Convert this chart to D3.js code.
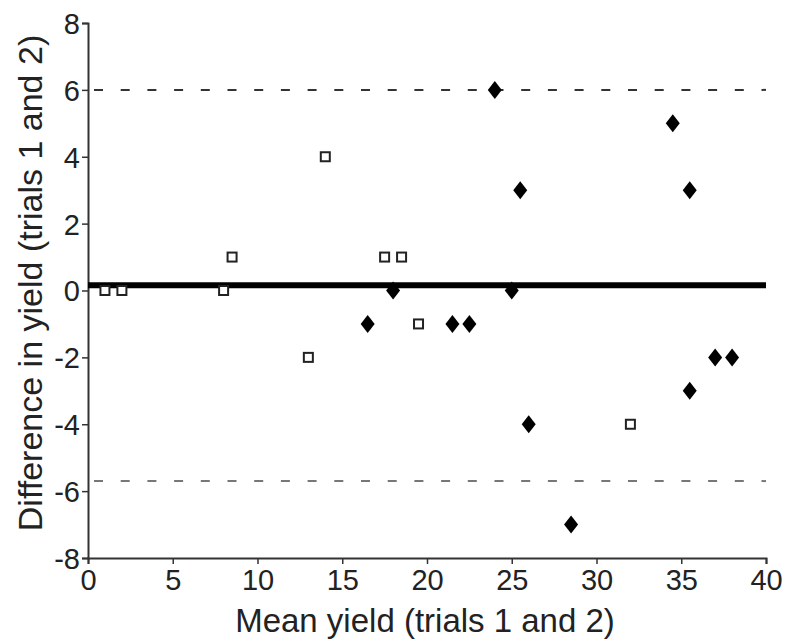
<!DOCTYPE html>
<html>
<head>
<meta charset="utf-8">
<script src="https://cdn.jsdelivr.net/npm/d3@7.9.0/dist/d3.min.js"></script>
<style>
  body { margin: 0; background: #fff; }
  svg text { font-family: "Liberation Sans", Arial, sans-serif; fill: #222; }
</style>
</head>
<body>
<svg id="chart" width="788" height="643"></svg>
<script>
// open squares
const squareX = [1, 2, 8, 8.5, 13, 14, 17.5, 18.5, 19.5, 32];
const squareY = [0, 0, 0, 1, -2, 4, 1, 1, -1, -4];
// filled diamonds
const diamondX = [16.5, 18, 21.5, 22.5, 24, 25, 25.5, 26, 28.5, 34.5, 35.5, 35.5, 37, 38];
const diamondY = [-1, 0, -1, -1, 6, 0, 3, -4, -7, 5, 3, -3, -2, -2];

const meanDiff = 0.16;
const upperLimit = 6.0;
const lowerLimit = -5.7;

const xTicks = [0, 5, 10, 15, 20, 25, 30, 35, 40];
const yTicks = [-8, -6, -4, -2, 0, 2, 4, 6, 8];

const svg = d3.select('#chart');
const plotLeft = 88, plotRight = 766, plotTop = 23, plotBottom = 558;

const x = d3.scaleLinear().domain([0, 40]).range([plotLeft, plotRight]);
const y = d3.scaleLinear().domain([-8, 8]).range([plotBottom, plotTop]);

// axes (plain hyphen for negatives, like the original)
const xAxis = svg.append('g')
  .attr('transform', `translate(0,${plotBottom})`)
  .call(d3.axisBottom(x).tickValues(xTicks).tickFormat((d) => String(d)).tickSize(6).tickPadding(3));
const yAxis = svg.append('g')
  .attr('transform', `translate(${plotLeft},0)`)
  .call(d3.axisLeft(y).tickValues(yTicks).tickFormat((d) => String(d)).tickSize(6).tickPadding(2));

[xAxis, yAxis].forEach((g) => {
  g.select('.domain').attr('stroke', '#333').attr('stroke-width', 2);
  g.selectAll('.tick line').attr('stroke', '#333').attr('stroke-width', 1.5);
  g.selectAll('.tick text')
    .attr('fill', '#222')
    .style('font-size', '29px')
    .style('font-family', '"Liberation Sans", Arial, sans-serif');
});
xAxis.selectAll('.tick text').attr('dy', '0.8em');
yAxis.selectAll('.tick text').attr('dy', '0.36em');

// limits of agreement
svg.append('line')
  .attr('x1', x(0)).attr('x2', x(40))
  .attr('y1', y(upperLimit)).attr('y2', y(upperLimit))
  .attr('stroke', '#333').attr('stroke-width', 2)
  .attr('stroke-dasharray', '9,17.7')
  .attr('stroke-dashoffset', -6);
svg.append('line')
  .attr('x1', x(0)).attr('x2', x(40))
  .attr('y1', y(lowerLimit)).attr('y2', y(lowerLimit))
  .attr('stroke', '#777').attr('stroke-width', 2)
  .attr('stroke-dasharray', '9,17.7')
  .attr('stroke-dashoffset', -6);

// mean difference
svg.append('line')
  .attr('x1', x(0)).attr('x2', x(40))
  .attr('y1', y(meanDiff)).attr('y2', y(meanDiff))
  .attr('stroke', '#000').attr('stroke-width', 6);

// points
const squares = squareX.map((v, i) => ({ x: v, y: squareY[i] }));
const diamonds = diamondX.map((v, i) => ({ x: v, y: diamondY[i] }));

svg.append('g')
  .selectAll('rect')
  .data(squares)
  .enter()
  .append('rect')
  .attr('x', (d) => x(d.x) - 4.5)
  .attr('y', (d) => y(d.y) - 4.5)
  .attr('width', 9)
  .attr('height', 9)
  .attr('fill', '#fff')
  .attr('stroke', '#222')
  .attr('stroke-width', 2);

svg.append('g')
  .selectAll('path')
  .data(diamonds)
  .enter()
  .append('path')
  .attr('d', (d) => {
    const cx = x(d.x), cy = y(d.y);
    return `M${cx},${cy - 9}L${cx + 7},${cy}L${cx},${cy + 9}L${cx - 7},${cy}Z`;
  })
  .attr('fill', '#000');

// axis titles
svg.append('text')
  .attr('x', 425)
  .attr('y', 632)
  .attr('text-anchor', 'middle')
  .style('font-size', '33px')
  .text('Mean yield (trials 1 and 2)');

svg.append('text')
  .attr('transform', 'translate(42,283) rotate(-90)')
  .attr('text-anchor', 'middle')
  .style('font-size', '34px')
  .text('Difference in yield (trials 1 and 2)');
</script>
</body>
</html>
